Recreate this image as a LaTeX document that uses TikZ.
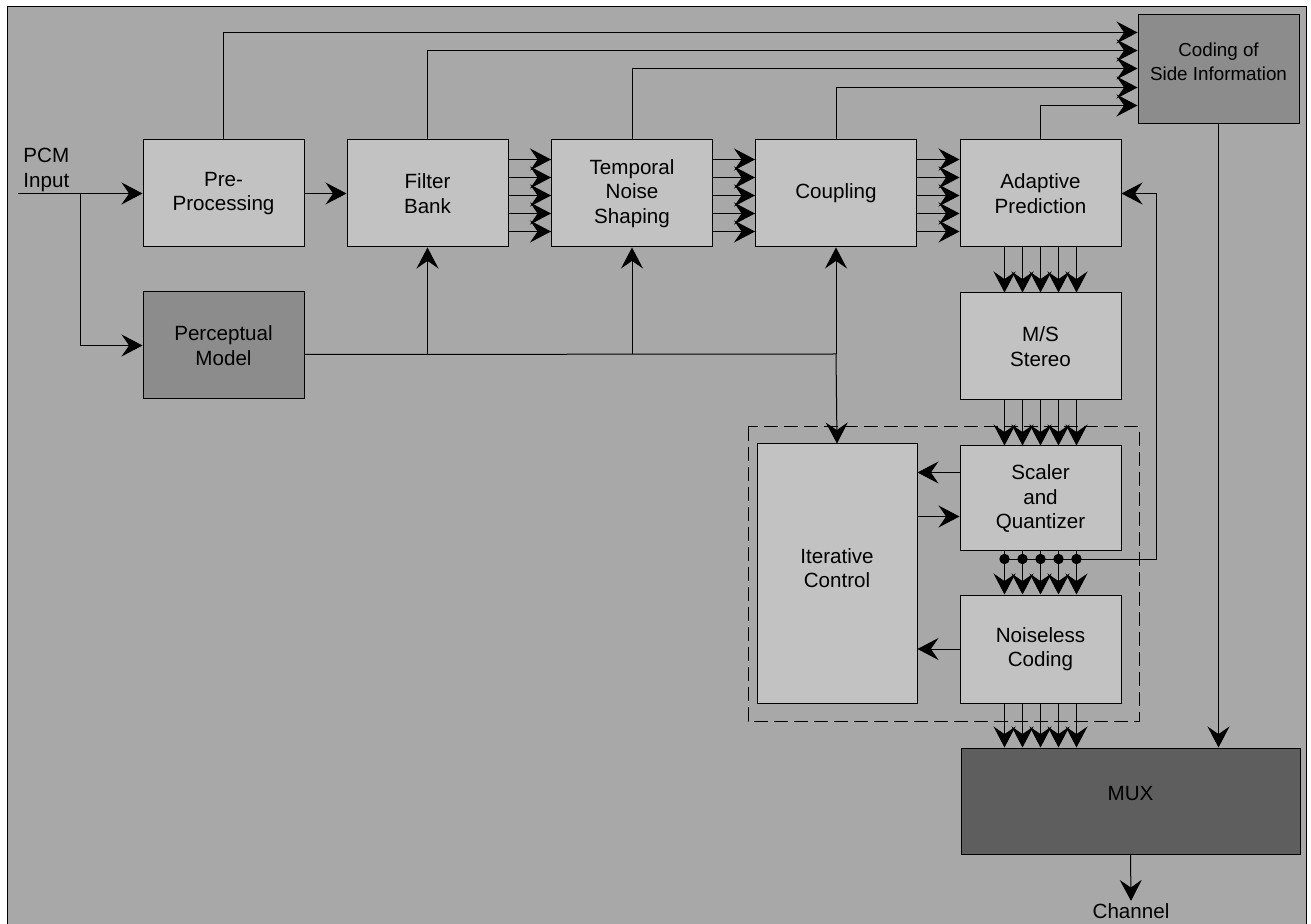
\documentclass[tikz,border=0pt]{standalone}
\usepackage{fontspec}
\setmainfont{Liberation Sans}
\usepackage{tikz}
\usetikzlibrary{arrows.meta, positioning}
\usepackage{xcolor}
\definecolor{sfondo}{gray}{0.66}
\definecolor{chiaro}{gray}{0.76}
\definecolor{scuro}{gray}{0.55}
\definecolor{scurissimo}{gray}{0.37}
\def\cornice{(7,924) -- (7,7) -- (1306,7) -- (1306,924)}
\def\tratteggio{(748,427) rectangle (1139,721)}
\tikzset{
    blocco/.style = {draw, fill=chiaro, inner sep=0pt, minimum width=80.5pt,
                     minimum height=53.5pt, align=center},
    freccia/.style = {-{Stealth[length=10.5pt, width=11pt, inset=3.8pt]}},
}

\begin{document}
\begin{tikzpicture}[x=0.5pt, y=-0.5pt, line width=0.5pt,
                    font=\fontsize{10.3}{12.3}\selectfont]
    % Sfondo e cornice
    \useasboundingbox (0,0) rectangle (1311,924);
    \fill[sfondo] (7,7) rectangle (1306,924);
    \draw \cornice;
    % Riquadro tratteggiato
    \draw[dash pattern=on 7pt off 3pt] \tratteggio;
    % Catena principale
    \node[blocco] (preproc) at (223.5,193.5) {Pre-\\Processing};
    \node[blocco] (filtro) at (427.5,193.5) {Filter\\Bank};
    \node[blocco] (tns) at (632,193.5) {Temporal\\Noise\\Shaping};
    \node[blocco] (coupling) at (836,193.5) {Coupling};
    \node[blocco] (predizione) at (1040.5,193.5) {Adaptive\\Prediction};
    \node[blocco, fill=scuro, minimum height=54.5pt, font=\fontsize{9.4}{12}\selectfont]
        (sideinfo) at (1218.5,69.5) {Coding of\\Side Information\\[-4pt]};
    \node[blocco, fill=scuro] (percettivo) at (223.5,345.5) {Perceptual\\Model};
    % Colonna a destra
    \node[blocco] (msstereo) at (1040.5,346.5) {M/S\\Stereo};
    \node[blocco, minimum height=52.5pt] (quant) at (1040.5,498.5) {Scaler\\and\\Quantizer};
    \node[blocco, minimum height=54pt] (noiseless) at (1040.5,649) {Noiseless\\Coding};
    \node[blocco, minimum width=80pt, minimum height=129.5pt] (iterativo) at (837,573.5)
        {Iterative\\Control\\[-6.8pt]};
    \node[blocco, fill=scurissimo, minimum width=169.5pt, minimum height=53pt]
        (mux) at (1130.5,801) {MUX\\[-4.3pt]};
    % Ingresso e uscita
    \node[anchor=north west, align=left, inner sep=0pt] (pcm) at (23,148) {PCM\\Input};
    \node[inner sep=1pt] (canale) at (1131,911) {Channel};
    \coordinate (ingresso) at (18,193.5);
    \coordinate (diramazione) at (80,193.5);
    \draw[freccia] (ingresso) -- (preproc.west);
    \draw[freccia] (diramazione) |- (percettivo.west);
    \draw[freccia] (preproc.east) -- (filtro.west);
    \draw[freccia] (mux.south) -- (canale.north);
    % Modello percettivo
    \coordinate (bivio) at (836,354);
    \draw ([yshift=-4.5pt]percettivo.east) -- (bivio);
    \draw[freccia] (bivio -| filtro.south) -- (filtro.south);
    \draw[freccia] (bivio -| tns.south) -- (tns.south);
    \draw[freccia] (bivio) -- (coupling.south);
    \draw[freccia] (bivio) -- (iterativo.north);
    % Informazione laterale
    \draw[freccia] (preproc.north) |- ([yshift=-9pt]sideinfo.north west);
    \draw[freccia] (filtro.north) |- ([yshift=-18pt]sideinfo.north west);
    \draw[freccia] (tns.north) |- ([yshift=-27pt]sideinfo.north west);
    \draw[freccia] (coupling.north) |- ([yshift=-36.5pt]sideinfo.north west);
    \draw[freccia] (predizione.north) |- ([yshift=-45.5pt]sideinfo.north west);
    \draw[freccia] (sideinfo.south) -- (sideinfo.south |- mux.north);
    % Bus orizzontali
    \foreach \k in {0,...,4} {
        \coordinate (h\k) at ([yshift={-10pt-9pt*\k}]filtro.north east);
        \draw[freccia] (h\k) -- (h\k -| tns.west);
        \draw[freccia] (h\k -| tns.east) -- (h\k -| coupling.west);
        \draw[freccia] (h\k -| coupling.east) -- (h\k -| predizione.west);
    }
    % Bus verticali
    \coordinate (punti) at (1156,559);
    \draw[freccia] (predizione.south west |- punti) ++(22.5pt,0) -- (punti) |- (predizione.east);
    \foreach \k in {0,...,4} {
        \coordinate (v\k) at ([xshift={22.5pt+9pt*\k}]predizione.south west);
        \draw[freccia] (v\k) -- (v\k |- msstereo.north);
        \draw[freccia] (v\k |- msstereo.south) -- (v\k |- quant.north);
        \draw[freccia] (v\k |- quant.south) -- (v\k |- noiseless.north);
        \fill (v\k |- punti) circle (2.6pt);
        \draw[freccia] (v\k |- noiseless.south) -- (v\k |- mux.north);
    }
    % Controllo iterativo
    \coordinate (q1) at ([yshift=-13.5pt]quant.north west);
    \coordinate (q2) at ([yshift=-35.5pt]quant.north west);
    \draw[freccia] (q1) -- (q1 -| iterativo.east);
    \draw[freccia] (q2 -| iterativo.east) -- (q2);
    \draw[freccia] (noiseless.west) -- (noiseless.west -| iterativo.east);
\end{tikzpicture}
\end{document}
